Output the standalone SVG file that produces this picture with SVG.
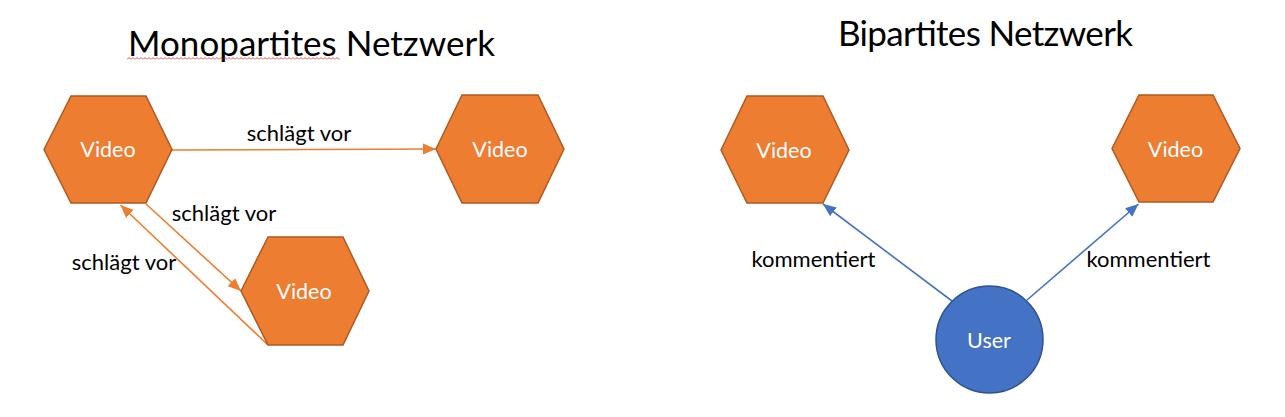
<svg xmlns="http://www.w3.org/2000/svg" width="1285" height="417" viewBox="0 0 1285 417">
<style>
  .hex { fill: #ED7D31; stroke: #AE5A21; stroke-width: 1.5; }
  .user { fill: #4472C4; stroke: #2F528F; stroke-width: 1.5; }
  .lbl { font-family: Lato, "Open Sans", "Liberation Sans", sans-serif; font-size: 21.5px; fill: #FFFFFF; text-anchor: middle; }
  .edge-lbl { font-family: Lato, "Open Sans", "Liberation Sans", sans-serif; font-size: 22px; fill: #000000; text-anchor: middle; }
  .title { font-family: Lato, "Open Sans", "Liberation Sans", sans-serif; font-size: 35px; fill: #000000; text-anchor: middle; }
  .oline { stroke: #ED7D31; stroke-width: 1.6; fill: none; }
  .bline { stroke: #4472C4; stroke-width: 1.6; fill: none; }
</style>
<defs>
  <marker id="arrO" markerUnits="userSpaceOnUse" markerWidth="14" markerHeight="12" refX="13" refY="6" orient="auto">
    <path d="M0,0.5 L13,6 L0,11.5 z" fill="#ED7D31"/>
  </marker>
  <marker id="arrB" markerUnits="userSpaceOnUse" markerWidth="14" markerHeight="12" refX="13" refY="6" orient="auto">
    <path d="M0,0.5 L13,6 L0,11.5 z" fill="#4472C4"/>
  </marker>
  <pattern id="squiggle" patternUnits="userSpaceOnUse" x="127" y="57" width="4" height="3">
    <polyline points="0,2.5 2,0.5 4,2.5" fill="none" stroke="#E02020" stroke-width="0.8"/>
  </pattern>
</defs>
<rect width="1285" height="417" fill="#FFFFFF"/>

<g id="titles">
  <text class="title" x="311.5" y="56" textLength="367">Monopartites Netzwerk</text>
  <rect x="127" y="57" width="213" height="3" fill="url(#squiggle)"/>
  <text class="title" x="985.5" y="46" textLength="295">Bipartites Netzwerk</text>
</g>

<g id="connectors">
  <line class="oline" x1="172" y1="150" x2="436" y2="149" marker-end="url(#arrO)"/>
  <line class="oline" x1="146" y1="204" x2="241" y2="291" marker-end="url(#arrO)"/>
  <line class="oline" x1="268" y1="345" x2="120.5" y2="205" marker-end="url(#arrO)"/>
  <line class="bline" x1="952" y1="301" x2="823" y2="204" marker-end="url(#arrB)"/>
  <line class="bline" x1="1027" y1="300" x2="1138.5" y2="204" marker-end="url(#arrB)"/>
  <text class="edge-lbl" x="299" y="141">schlägt vor</text>
  <text class="edge-lbl" x="224" y="221">schlägt vor</text>
  <text class="edge-lbl" x="124" y="270">schlägt vor</text>
  <text class="edge-lbl" x="813.5" y="267">kommentiert</text>
  <text class="edge-lbl" x="1148.5" y="267">kommentiert</text>
</g>

<g id="video1">
  <polygon class="hex" points="44,149.5 71,96 146,96 172,149.5 146,203 71,203"/>
  <text class="lbl" x="108" y="157">Video</text>
</g>
<g id="video2">
  <polygon class="hex" points="436,149 462,95 538,95 564,149 538,203 462,203"/>
  <text class="lbl" x="500" y="157">Video</text>
</g>
<g id="video3">
  <polygon class="hex" points="241,291 268,237 343,237 369,291 343,345 268,345"/>
  <text class="lbl" x="304" y="298.5">Video</text>
</g>
<g id="video4">
  <polygon class="hex" points="721,150 747,96 823,96 849,150 823,203 747,203"/>
  <text class="lbl" x="784" y="157.5">Video</text>
</g>
<g id="video5">
  <polygon class="hex" points="1112,148.5 1139,95 1213,95 1240,148.5 1213,202 1139,202"/>
  <text class="lbl" x="1175.5" y="157">Video</text>
</g>
<g id="user">
  <circle class="user" cx="989.5" cy="339.5" r="53.5"/>
  <text class="lbl" x="989" y="347.5">User</text>
</g>
</svg>
